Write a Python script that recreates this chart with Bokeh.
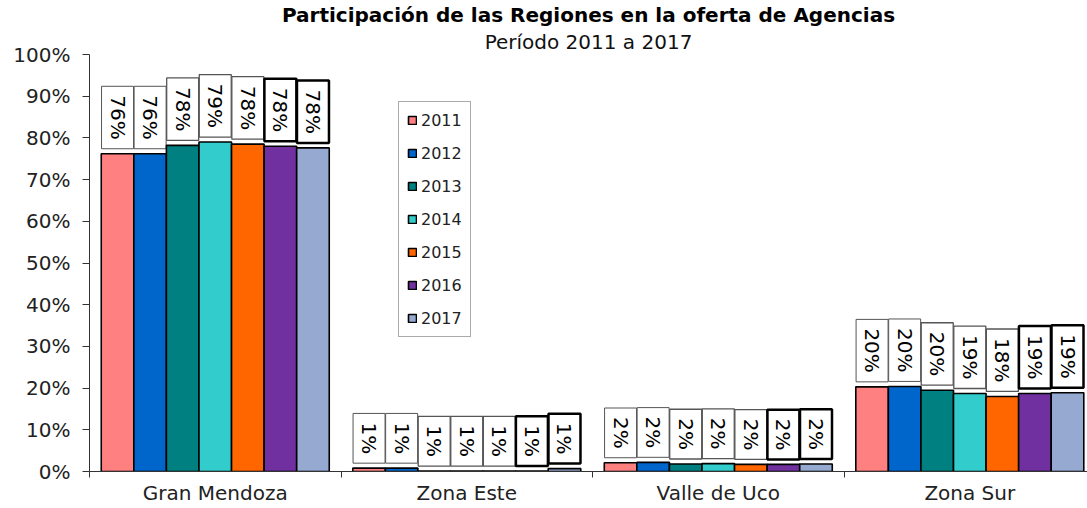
import numpy as np
from bokeh.plotting import figure
from bokeh.models import (ColumnDataSource, Range1d, FixedTicker, LinearAxis,
                          PrintfTickFormatter, Legend, Title)
from bokeh.transform import dodge
from bokeh.core.properties import value
from bokeh.embed import file_html
from bokeh.resources import INLINE

# ---------------- data ----------------
regions = ["Gran Mendoza", "Zona Este", "Valle de Uco", "Zona Sur"]
years = ["2011", "2012", "2013", "2014", "2015", "2016", "2017"]

v2011 = [76.2, 0.8, 2.1, 20.3]
v2012 = [76.2, 0.8, 2.2, 20.4]
v2013 = [78.2, 0.1, 1.8, 19.5]
v2014 = [79.0, 0.1, 1.9, 18.7]
v2015 = [78.5, 0.1, 1.7, 18.0]
v2016 = [78.0, 0.1, 1.7, 18.7]
v2017 = [77.6, 0.7, 1.8, 18.9]

l2011 = ["76%", "1%", "2%", "20%"]
l2012 = ["76%", "1%", "2%", "20%"]
l2013 = ["78%", "1%", "2%", "20%"]
l2014 = ["79%", "1%", "2%", "19%"]
l2015 = ["78%", "1%", "2%", "18%"]
l2016 = ["78%", "1%", "2%", "19%"]
l2017 = ["78%", "1%", "2%", "19%"]

y_ticks = list(range(0, 101, 10))

values = [v2011, v2012, v2013, v2014, v2015, v2016, v2017]
labels = [l2011, l2012, l2013, l2014, l2015, l2016, l2017]
colors = ["#FF8080", "#0066CC", "#008080", "#33CCCC", "#FF6600", "#7030A0", "#95A9D1"]
box_colors = ["#555555", "#555555", "#555555", "#555555", "#555555", "#000000", "#000000"]
box_widths = [1, 1, 1.3, 1.3, 1.3, 2.5, 2.5]

FONT = "DejaVu Sans"

p = figure(width=1087, height=508,
           x_range=Range1d(0, 3.968), y_range=Range1d(0, 100),
           x_axis_type=None, y_axis_type=None,
           output_backend="svg", toolbar_location=None,
           min_border_left=89, min_border_right=0,
           min_border_top=53, min_border_bottom=37,
           background_fill_color="white", border_fill_color="white")
p.outline_line_color = None
p.xgrid.visible = False
p.ygrid.visible = False

# y axis
yaxis = LinearAxis(ticker=FixedTicker(ticks=y_ticks, minor_ticks=[]),
                   formatter=PrintfTickFormatter(format="%d%%"))
yaxis.major_tick_out = 7
yaxis.major_tick_in = 0
yaxis.minor_tick_out = 0
yaxis.major_label_standoff = 12
yaxis.major_label_text_font = FONT
yaxis.major_label_text_font_size = "20px"
yaxis.major_label_text_color = "#222222"
yaxis.axis_line_color = "#333333"
yaxis.major_tick_line_color = "#333333"
p.add_layout(yaxis, "left")

# x axis
centers = [i + 0.5 for i in range(len(regions))]
bounds = [float(i) for i in range(len(regions) + 1)]
xaxis = LinearAxis(ticker=FixedTicker(ticks=centers, minor_ticks=bounds))
xaxis.major_label_overrides = {c: r for c, r in zip(centers, regions)}
xaxis.major_tick_out = 0
xaxis.major_tick_in = 0
xaxis.minor_tick_out = 6
xaxis.minor_tick_in = 0
xaxis.major_label_standoff = 3
xaxis.major_label_text_font = FONT
xaxis.major_label_text_font_size = "20px"
xaxis.major_label_text_color = "#222222"
xaxis.axis_line_color = "#333333"
xaxis.minor_tick_line_color = "#333333"
p.add_layout(xaxis, "below")

bar_w = 0.1295
legend_items = []
for j, yr in enumerate(years):
    off = (j - 3) * bar_w
    src = ColumnDataSource(dict(x=centers, top=values[j], label=labels[j]))
    r = p.vbar(x=dodge("x", off, range=p.x_range), top="top", width=bar_w,
               source=src, fill_color=colors[j], line_color="black", line_width=1.6)
    legend_items.append((yr, [r]))
    p.text(x=dodge("x", off, range=p.x_range), y="top", text="label", source=src,
           angle=-np.pi / 2, anchor="center_right", y_offset=-5,
           text_font=value(FONT), text_font_size="20px", text_color="black",
           background_fill_color="white",
           border_line_color=box_colors[j], border_line_width=box_widths[j],
           padding=dict(left=9, right=9, top=4, bottom=4))

legend = Legend(items=legend_items, location=(309, 134),
                label_text_font=FONT, label_text_font_size="16px",
                label_text_color="#222222",
                glyph_width=10, glyph_height=10, label_height=20,
                spacing=13, padding=8, margin=0, label_standoff=4,
                border_line_color="#555555", border_line_width=1,
                background_fill_color="white", background_fill_alpha=1)
p.add_layout(legend, "center")

sub = Title(text="Período 2011 a 2017", align="center", offset=-21,
            text_font=FONT, text_font_size="20px", text_font_style="normal",
            text_color="#111111", standoff=2)
p.add_layout(sub, "above")
main = Title(text="Participación de las Regiones en la oferta de Agencias", align="center",
             offset=-21, text_font=FONT, text_font_size="20px", text_font_style="bold",
             text_color="#000000", standoff=0)
p.add_layout(main, "above")

open("out.html", "w").write(file_html(p, INLINE))
